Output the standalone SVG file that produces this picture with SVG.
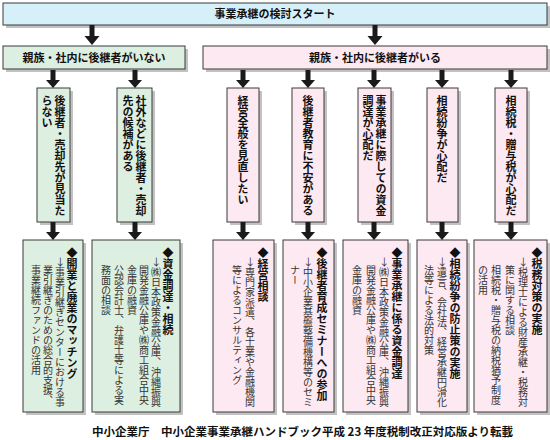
<svg xmlns="http://www.w3.org/2000/svg" xmlns:xlink="http://www.w3.org/1999/xlink" width="550" height="440" viewBox="0 0 550 440">
<style>
.sh{fill:#c2c2c2}
.bx{stroke:#3a3a3a;stroke-width:1}
.blue{fill:#d6f0fa}
.green{fill:#ddefe0}
.pink{fill:#fde9f1}
text{font-family:"Noto Sans CJK JP","Noto Sans CJK SC",sans-serif}
.t{font-size:11px;font-weight:bold;fill:#111}
.v{writing-mode:vertical-rl}
.hd{font-size:11px;font-weight:bold;fill:#111}
.bd{font-size:10px;fill:#333}
.cap{font-size:11.5px;font-weight:bold;fill:#111}
.arr{fill:#1a1a1a}
</style>
<defs>
<path id="a18" d="M-2.5,0 H2.5 V10 H7 L0,18 L-7,10 H-2.5 Z"/>
<path id="a20" d="M-2.5,0 H2.5 V11 H7.5 L0,20 L-7.5,11 H-2.5 Z"/>
</defs>

<g id="start">
<rect class="sh" x="6" y="6" width="544" height="22"/>
<rect class="bx blue" x="3" y="3" width="544" height="22"/>
<text class="t" x="275" y="18" text-anchor="middle">事業承継の検討スタート</text>
</g>

<g id="no-successor">
<rect class="sh" x="6" y="49" width="182" height="23"/>
<rect class="bx green" x="3" y="46" width="182" height="23"/>
<text class="t" x="94" y="61.5" text-anchor="middle">親族・社内に後継者がいない</text>
</g>

<g id="has-successor">
<rect class="sh" x="206" y="49" width="344" height="23"/>
<rect class="bx pink" x="203" y="46" width="344" height="23"/>
<text class="t" x="375" y="61.5" text-anchor="middle">親族・社内に後継者がいる</text>
</g>

<g id="c1">
<rect class="sh" x="40" y="91" width="33" height="134"/>
<rect class="bx green" x="37" y="88" width="33" height="134"/>
<text class="t v" x="60" y="95">後継者・売却先が見当た</text>
<text class="t v" x="47" y="95">らない</text>
</g>
<g id="c2">
<rect class="sh" x="120" y="91" width="35" height="134"/>
<rect class="bx green" x="117" y="88" width="35" height="134"/>
<text class="t v" x="141" y="95">社外などに後継者・売却</text>
<text class="t v" x="128" y="95">先の候補がある</text>
</g>
<g id="c3">
<rect class="sh" x="230" y="91" width="32" height="134"/>
<rect class="bx pink" x="227" y="88" width="32" height="134"/>
<text class="t v" x="243" y="95">経営全般を見直したい</text>
</g>
<g id="c4">
<rect class="sh" x="295" y="91" width="32" height="134"/>
<rect class="bx pink" x="292" y="88" width="32" height="134"/>
<text class="t v" x="308" y="95">後継者教育に不安がある</text>
</g>
<g id="c5">
<rect class="sh" x="361" y="91" width="33" height="134"/>
<rect class="bx pink" x="358" y="88" width="33" height="134"/>
<text class="t v" x="381" y="95">事業承継に際しての資金</text>
<text class="t v" x="368" y="95">調達が心配だ</text>
</g>
<g id="c6">
<rect class="sh" x="430" y="91" width="31" height="134"/>
<rect class="bx pink" x="427" y="88" width="31" height="134"/>
<text class="t v" x="442" y="95">相続紛争が心配だ</text>
</g>
<g id="c7">
<rect class="sh" x="498" y="91" width="32" height="134"/>
<rect class="bx pink" x="495" y="88" width="32" height="134"/>
<text class="t v" x="511" y="95">相続税・贈与税が心配だ</text>
</g>

<g id="s1">
<rect class="sh" x="26" y="243" width="60" height="172"/>
<rect class="bx green" x="23" y="240" width="60" height="172"/>
<text class="hd v" x="72" y="247">◆開業と廃業のマッチング</text>
<text class="bd v" x="60" y="257">→事業引継ぎセンターにおける事</text>
<text class="bd v" x="48" y="265">業引継ぎのための総合的支援、</text>
<text class="bd v" x="36" y="265">事業継続ファンドの活用</text>
</g>
<g id="s2">
<rect class="sh" x="95" y="243" width="88" height="172"/>
<rect class="bx green" x="92" y="240" width="88" height="172"/>
<text class="hd v" x="168" y="247">◆資金調達・相続</text>
<text class="bd v" x="156" y="257">→㈱日本政策金融公庫、沖縄振興</text>
<text class="bd v" x="144" y="265">開発金融公庫や㈱商工組合中央</text>
<text class="bd v" x="132" y="265">金庫の融資</text>
<text class="bd v" x="119" y="265">公認会計士、弁護士等による実</text>
<text class="bd v" x="106" y="265">務面の相談</text>
</g>
<g id="s3">
<rect class="sh" x="216" y="243" width="61" height="172"/>
<rect class="bx pink" x="213" y="240" width="61" height="172"/>
<text class="hd v" x="263" y="247">◆経営相談</text>
<text class="bd v" x="250" y="257">→専門家派遣、各士業や金融機関</text>
<text class="bd v" x="237" y="265">等によるコンサルティング</text>
</g>
<g id="s4">
<rect class="sh" x="286" y="243" width="51" height="172"/>
<rect class="bx pink" x="283" y="240" width="51" height="172"/>
<text class="hd v" x="322" y="247">◆後継者育成セミナーへの参加</text>
<text class="bd v" x="308" y="257">→中小企業基盤整備機構等のセミ</text>
<text class="bd v" x="295" y="265">ナー</text>
</g>
<g id="s5">
<rect class="sh" x="346" y="243" width="65" height="172"/>
<rect class="bx pink" x="343" y="240" width="65" height="172"/>
<text class="hd v" x="397" y="247">◆事業承継に係る資金調達</text>
<text class="bd v" x="384" y="257">→㈱日本政策金融公庫、沖縄振興</text>
<text class="bd v" x="371" y="265">開発金融公庫や㈱商工組合中央</text>
<text class="bd v" x="357" y="265">金庫の融資</text>
</g>
<g id="s6">
<rect class="sh" x="420" y="243" width="50" height="172"/>
<rect class="bx pink" x="417" y="240" width="50" height="172"/>
<text class="hd v" x="455" y="247">◆相続紛争の防止策の実施</text>
<text class="bd v" x="442" y="257">→遺言、会社法、経営承継円滑化</text>
<text class="bd v" x="429" y="265">法等による法的対策</text>
</g>
<g id="s7">
<rect class="sh" x="477" y="243" width="73" height="172"/>
<rect class="bx pink" x="474" y="240" width="73" height="172"/>
<text class="hd v" x="537" y="247">◆税務対策の実施</text>
<text class="bd v" x="523" y="257">→税理士による財産承継・税務対</text>
<text class="bd v" x="510" y="265">策に関する相談</text>
<text class="bd v" x="496" y="265">相続税・贈与税の納税猶予制度</text>
<text class="bd v" x="483" y="265">の活用</text>
</g>

<g id="connectors" class="arr">
<use xlink:href="#a20" x="92" y="25"/>
<use xlink:href="#a20" x="375" y="25"/>
<use xlink:href="#a18" x="53" y="70"/>
<use xlink:href="#a18" x="135" y="70"/>
<use xlink:href="#a18" x="243" y="70"/>
<use xlink:href="#a18" x="308" y="70"/>
<use xlink:href="#a18" x="374" y="70"/>
<use xlink:href="#a18" x="442" y="70"/>
<use xlink:href="#a18" x="511" y="70"/>
<use xlink:href="#a18" x="53" y="222"/>
<use xlink:href="#a18" x="135" y="222"/>
<use xlink:href="#a18" x="243" y="222"/>
<use xlink:href="#a18" x="308" y="222"/>
<use xlink:href="#a18" x="374" y="222"/>
<use xlink:href="#a18" x="442" y="222"/>
<use xlink:href="#a18" x="511" y="222"/>
</g>

<text class="cap" x="92" y="436">中小企業庁　中小企業事業承継ハンドブック平成 23 年度税制改正対応版より転載</text>
</svg>
